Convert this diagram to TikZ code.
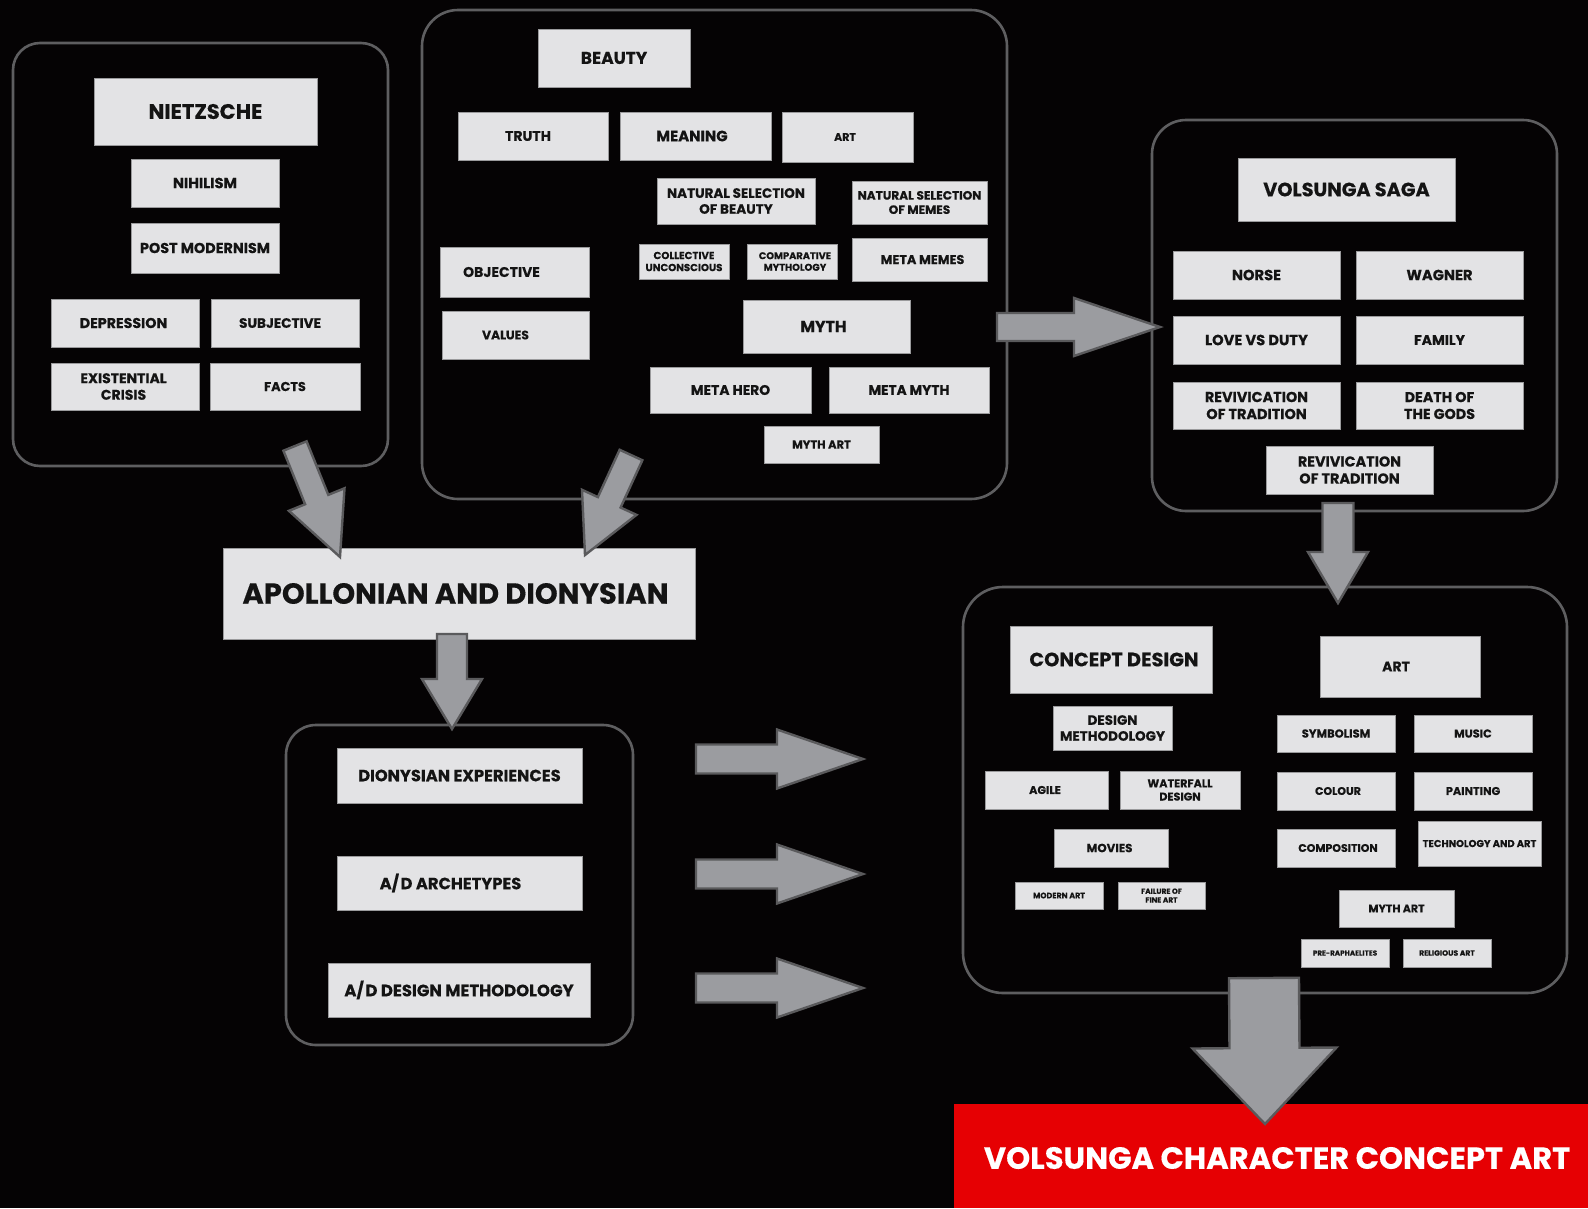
\documentclass[tikz,border=0pt]{standalone}
\usepackage{fontspec}
\setmainfont{Poppins}[BoldFeatures={FakeBold=0.35}]
\usetikzlibrary{calc}
\definecolor{bg}{HTML}{050304}
\definecolor{boxfill}{HTML}{E3E3E5}
\definecolor{boxline}{HTML}{9A9A9C}
\definecolor{ink}{HTML}{141414}
\definecolor{contline}{HTML}{5E5E60}
\definecolor{arrowfill}{HTML}{9B9CA0}
\definecolor{arrowline}{HTML}{5A5A5C}
\definecolor{finalred}{HTML}{E60003}
\newcommand\fz[1]{\fontsize{#1}{\fpeval{#1*1.18}}\selectfont\bfseries}
% text box given by its corners (x1,y1)-(x2,y2), font size and label;
% the optional argument moves the label sideways inside the box
\newcommand\tb[8][0]{%
  \node[bx,minimum width={(#5-#3)*1pt},minimum height={(#6-#4)*1pt}] (#2) at ({(#3+#5)/2},{(#4+#6)/2}) {};
  \node[lbl,font=\fz{#7}] at ([xshift=#1pt]#2.center) {#8};}
% block arrow from a tail point to a tip point
\newcommand\fatarrow[5]{%
  \coordinate (hb) at ($(#2)!#5!(#1)$);
  \draw[fat] ($(#1)!#3!90:(#2)$) -- ($(hb)!#3!90:(#2)$) -- ($(hb)!#4!90:(#2)$) -- (#2)
    -- ($(hb)!#4!-90:(#2)$) -- ($(hb)!#3!-90:(#2)$) -- ($(#1)!#3!-90:(#2)$) -- cycle;}
\tikzset{
  bx/.style={draw=boxline,line width=0.8pt,fill=boxfill,inner sep=0pt},
  lbl/.style={text=ink,inner sep=0pt,align=center},
  cont/.style={draw=contline,line width=2.6pt},
  fat/.style={draw=arrowline,fill=arrowfill,line width=2.4pt,line join=miter},
}
\begin{document}
\begin{tikzpicture}[x=1pt,y=-1pt]
\fill[bg] (0,0) rectangle (1588,1208);
\useasboundingbox (0,0) rectangle (1588,1208);

% containers
\draw[cont,rounded corners=27] (13,43) rectangle (388,466);
\draw[cont,rounded corners=36] (422,10) rectangle (1007,499);
\draw[cont,rounded corners=34] (1152,120) rectangle (1557,511);
\draw[cont,rounded corners=40] (963,587) rectangle (1567,993);
\draw[cont,rounded corners=30] (286,725) rectangle (633,1045);

% Nietzsche
\tb{nietzsche}{94}{78}{317}{145}{21}{NIETZSCHE}
\tb{nihilism}{131}{159}{279}{207}{14.6}{NIHILISM}
\tb{postmod}{131}{223}{279}{273}{14.4}{POST MODERNISM}
\tb[-1.5]{depression}{51}{299}{199}{347}{14.2}{DEPRESSION}
\tb[-5]{subjective}{211}{299}{359}{347}{13.6}{SUBJECTIVE}
\tb[-1.5]{existential}{51}{363}{199}{410}{14}{EXISTENTIAL\\CRISIS}
\tb{facts}{210}{363}{360}{410}{12.8}{FACTS}

% Beauty
\tb{beauty}{538}{29}{690}{87}{17}{BEAUTY}
\tb[-5]{truth}{458}{112}{608}{160}{14}{TRUTH}
\tb[-3.5]{meaning}{620}{112}{771}{160}{15}{MEANING}
\tb[-2.5]{artone}{782}{112}{913}{162}{11}{ART}
\tb{natsel}{657}{178}{815}{224}{13.5}{NATURAL SELECTION\\OF BEAUTY}
\tb{natmem}{852}{181}{987}{224}{12.1}{NATURAL SELECTION\\OF MEMES}
\tb{collective}{639}{244}{729}{279}{10.2}{COLLECTIVE\\UNCONSCIOUS}
\tb[3]{comparative}{747}{244}{837}{279}{9.8}{COMPARATIVE\\MYTHOLOGY}
\tb[3]{metamemes}{852}{238}{987}{281}{12.8}{META MEMES}
\tb[-13]{objective}{440}{247}{589}{297}{14}{OBJECTIVE}
\tb[-10]{values}{442}{311}{589}{359}{12.3}{VALUES}
\tb[-3]{myth}{743}{300}{910}{353}{15.8}{MYTH}
\tb{metahero}{650}{367}{811}{413}{13.9}{META HERO}
\tb{metamyth}{829}{367}{989}{413}{13.7}{META MYTH}
\tb{mythartone}{764}{426}{879}{463}{11.5}{MYTH ART}

% Volsunga saga
\tb{saga}{1238}{158}{1455}{221}{19.3}{VOLSUNGA SAGA}
\tb{norse}{1173}{251}{1340}{299}{14.7}{NORSE}
\tb{wagner}{1356}{251}{1523}{299}{14.7}{WAGNER}
\tb{love}{1173}{316}{1340}{364}{14.7}{LOVE VS DUTY}
\tb{family}{1356}{316}{1523}{364}{14}{FAMILY}
\tb{revivone}{1173}{382}{1340}{429}{14.4}{REVIVICATION\\OF TRADITION}
\tb{death}{1356}{382}{1523}{429}{14.3}{DEATH OF\\THE GODS}
\tb{revivtwo}{1266}{446}{1433}{494}{14.4}{REVIVICATION\\OF TRADITION}

% Concept design and art
\tb[3]{concept}{1010}{626}{1212}{693}{19.4}{CONCEPT DESIGN}
\tb[-4]{arttwo}{1320}{636}{1480}{697}{14}{ART}
\tb{designm}{1053}{706}{1172}{750}{13.5}{DESIGN\\METHODOLOGY}
\tb[-1.5]{agile}{985}{771}{1108}{809}{11.3}{AGILE}
\tb{waterfall}{1120}{771}{1240}{809}{11.2}{WATERFALL\\DESIGN}
\tb[-1.5]{movies}{1054}{829}{1168}{867}{11.8}{MOVIES}
\tb{modernart}{1015}{882}{1103}{909}{7.9}{MODERN ART}
\tb{failure}{1118}{882}{1205}{909}{7.4}{FAILURE OF\\FINE ART}
\tb{symbolism}{1277}{715}{1395}{752}{11.5}{SYMBOLISM}
\tb{music}{1414}{715}{1532}{752}{11.4}{MUSIC}
\tb[2]{colour}{1277}{772}{1395}{810}{11}{COLOUR}
\tb{painting}{1414}{772}{1532}{810}{11.3}{PAINTING}
\tb[2]{composition}{1277}{829}{1395}{867}{11}{COMPOSITION}
\tb{tech}{1418}{821}{1541}{866}{9.9}{TECHNOLOGY AND ART}
\tb{mytharttwo}{1339}{890}{1454}{927}{11}{MYTH ART}
\tb{prerapha}{1301}{939}{1389}{967}{7.2}{PRE-RAPHAELITES}
\tb{religious}{1403}{939}{1491}{967}{7.6}{RELIGIOUS ART}

% Apollonian and Dionysian
\tb[-3.5]{apollo}{223}{548}{695}{639}{29}{APOLLONIAN AND DIONYSIAN}
\tb{dexp}{337}{748}{582}{803}{16.3}{DIONYSIAN EXPERIENCES}
\tb[-9]{arche}{337}{856}{582}{910}{16.3}{A/\kern1.5pt D ARCHETYPES}
\tb{admeth}{328}{963}{590}{1017}{16.5}{A/\kern1.5pt D DESIGN METHODOLOGY}

% final output
\fill[finalred] (954,1104) rectangle (1588,1208);
\node[text=white,font=\fz{30.6}] (final) at (1277,1158) {VOLSUNGA CHARACTER CONCEPT ART};

% block arrows
\coordinate (aone) at (295,446);   \coordinate (aonetip) at (340,557);
\coordinate (atwo) at (631,455);   \coordinate (atwotip) at (585,555);
\coordinate (athree) at (452,634); \coordinate (athreetip) at (452,729);
\coordinate (afour) at (997,327);  \coordinate (afourtip) at (1160,327);
\coordinate (afive) at (1338,503); \coordinate (afivetip) at (1338,603);
\coordinate (rone) at (696,759);   \coordinate (ronetip) at (863,759);
\coordinate (rtwo) at (696,874);   \coordinate (rtwotip) at (863,874);
\coordinate (rthree) at (696,988); \coordinate (rthreetip) at (863,988);
\coordinate (afin) at (1264,978);  \coordinate (afintip) at (1265,1124);

\fatarrow{aone}{aonetip}{12.5pt}{30pt}{62pt}
\fatarrow{atwo}{atwotip}{12.5pt}{30pt}{58pt}
\fatarrow{athree}{athreetip}{15pt}{30pt}{50pt}
\fatarrow{afour}{afourtip}{14pt}{29pt}{86pt}
\fatarrow{afive}{afivetip}{15.5pt}{30pt}{51pt}
\fatarrow{rone}{ronetip}{14.5pt}{29.5pt}{86pt}
\fatarrow{rtwo}{rtwotip}{14.5pt}{29.5pt}{86pt}
\fatarrow{rthree}{rthreetip}{14.5pt}{29.5pt}{86pt}
\fatarrow{afin}{afintip}{35pt}{72pt}{76pt}
\end{tikzpicture}
\end{document}
